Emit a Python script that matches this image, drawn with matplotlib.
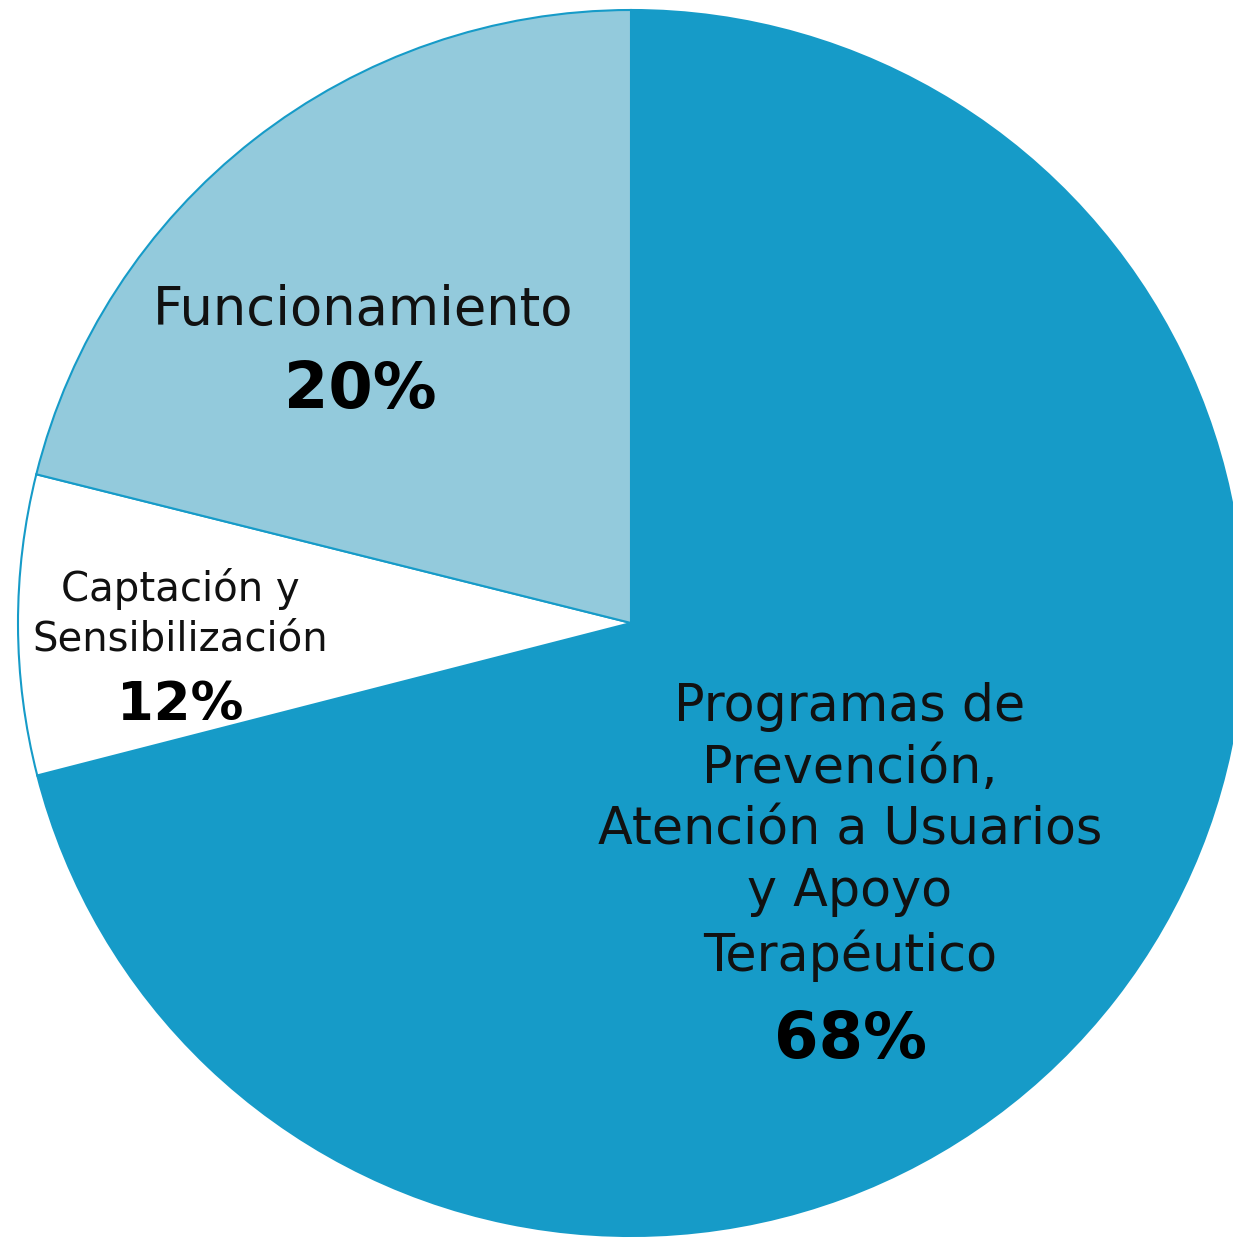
"""Pie chart: distribución del gasto por área."""

import matplotlib.pyplot as plt

# slice shares as drawn (clockwise from 12 o'clock)
categories = ["Programas de\nPrevención,\nAtención a Usuarios\ny Apoyo\nTerapéutico",
              "Captación y\nSensibilización",
              "Funcionamiento"]
shares = [71.0, 7.9, 21.1]
pct_labels = ["68%", "12%", "20%"]
colors = ["#169bc8", "#ffffff", "#93cadc"]

W, H = 1233, 1238
CX, CY, R = 631, 623, 613  # pie centre / radius in pixels

fig = plt.figure(figsize=(W / 100, H / 100), dpi=100)
ax = fig.add_axes([0, 0, 1, 1])
ax.pie(shares, colors=colors, startangle=90, counterclock=False, radius=1,
       wedgeprops=dict(edgecolor="#169bc8", linewidth=1.5))
ax.set_xlim(-CX / R, (W - CX) / R)
ax.set_ylim(-(H - CY) / R, CY / R)
ax.set_aspect("auto")
ax.axis("off")


def px(x, y):
    """pixel position in the reference -> data coords"""
    return (x - CX) / R, (CY - y) / R


font = "DejaVu Sans"
# name / percentage label placement (pixels), sizes in pt
label_pos = [(850, 832, 36.5), (180, 614, 29), (363, 310, 38)]
pct_pos = [(850, 1040, 46), (180, 705, 38), (360, 390, 46)]

for cat, (x, y, size), pct, (px_, py_, psize) in zip(categories, label_pos,
                                                     pct_labels, pct_pos):
    ax.text(*px(x, y), cat, ha="center", va="center", fontsize=size,
            family=font, color="#111111", linespacing=1.3)
    ax.text(*px(px_, py_), pct, ha="center", va="center", fontsize=psize,
            family=font, fontweight="bold", color="#000000")

fig.savefig("out.png", dpi=100)
